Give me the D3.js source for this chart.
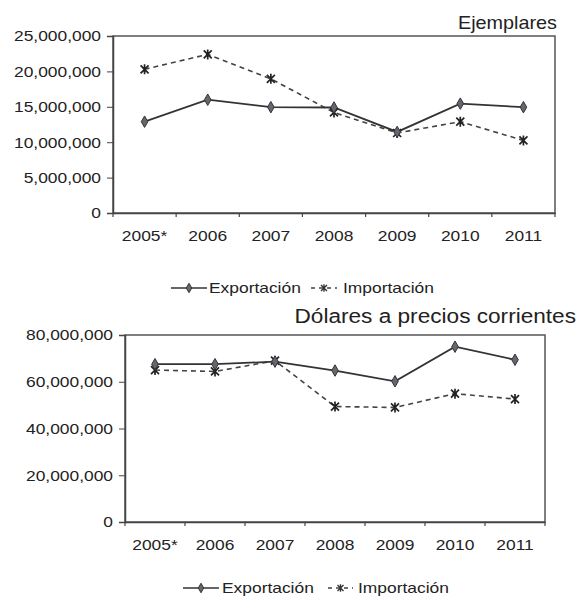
<!DOCTYPE html>
<html><head><meta charset="utf-8">
<script src="https://cdn.jsdelivr.net/npm/d3@7"></script>
<style>
body{margin:0;background:#fff;}
text{font-family:"Liberation Sans",Arial,sans-serif;fill:#222;}
</style></head>
<body><svg id="c" width="579" height="600"></svg>
<script>
const years = ["2005*","2006","2007","2008","2009","2010","2011"];
const ejemExport = [12900000,16000000,14950000,14900000,11450000,15450000,14950000];
const ejemImport = [20300000,22400000,18950000,14200000,11300000,12900000,10250000];
const dolExport = [67500000,67500000,68600000,64800000,60200000,75000000,69400000];
const dolImport = [65000000,64400000,69000000,49400000,49000000,54900000,52600000];
const ejemTicks = [0,5000000,10000000,15000000,20000000,25000000];
const dolTicks = [0,20000000,40000000,60000000,80000000];
const seriesNames = ["Exportación","Importación"];

const S = 1.16; // horizontal stretch of text in the reference
const svg = d3.select("#c");
svg.append("rect").attr("width",579).attr("height",600).attr("fill","#fff");
const fmt = d3.format(",");

const starPath = "M-4,-4L4,4M-4,4L4,-4M0,-5L0,5";
const diamond = d3.symbol().type(d3.symbolDiamond).size(38);

function stext(g,x,y,t,size,anchor,s){
  return g.append("text").attr("transform",`translate(${x},${y}) scale(${s||S},1)`)
    .attr("text-anchor",anchor||"start").attr("font-size",size).attr("fill","#333").text(t);
}

function chart(cfg){
  const g = svg.append("g");
  const x = d3.scaleBand().domain(years).range([cfg.x0,cfg.x1]);
  const y = d3.scaleLinear().domain([0,cfg.max]).range([cfg.y1,cfg.y0]);
  g.append("rect").attr("x",cfg.x0).attr("y",cfg.y0).attr("width",cfg.x1-cfg.x0).attr("height",cfg.y1-cfg.y0)
    .attr("fill","none").attr("stroke","#555").attr("stroke-width",1.5);
  const ya = g.append("g").attr("transform",`translate(${cfg.x0},0)`)
    .call(d3.axisLeft(y).tickValues(cfg.ticks).tickFormat(fmt).tickSize(6).tickPadding(4));
  ya.select(".domain").attr("stroke","#444").attr("stroke-width",1.5);
  ya.selectAll(".tick line").attr("stroke","#444");
  ya.selectAll("text").attr("font-size",15).attr("fill","#333").attr("font-family","Liberation Sans, Arial, sans-serif")
    .attr("x",-cfg.ypad/S).attr("transform",`scale(${S},1)`);
  const xa = g.append("g").attr("transform",`translate(0,${cfg.y1})`)
    .call(d3.axisBottom(x).tickSize(0).tickPadding(cfg.xpad));
  xa.select(".domain").attr("stroke","#444").attr("stroke-width",1.5);
  xa.selectAll("text").attr("font-size",15).attr("fill","#333").attr("font-family","Liberation Sans, Arial, sans-serif")
    .attr("transform",`scale(${S},1)`).attr("x",0);
  const bounds = years.map(d=>x(d)).concat([cfg.x1]);
  g.selectAll(".xt").data(bounds).enter().append("line")
    .attr("x1",d=>d).attr("x2",d=>d).attr("y1",cfg.y1).attr("y2",cfg.y1+4)
    .attr("stroke","#444").attr("stroke-width",1.2);
  const cx = d=>x(d)+x.bandwidth()/2;
  const line = d3.line().x((d,i)=>cx(years[i])).y(d=>y(d));
  g.append("path").datum(cfg.imp).attr("d",line).attr("fill","none").attr("stroke","#444")
    .attr("stroke-width",1.6).attr("stroke-dasharray","5,4");
  g.append("path").datum(cfg.exp).attr("d",line).attr("fill","none").attr("stroke","#333")
    .attr("stroke-width",1.8);
  g.selectAll(".st").data(cfg.imp).enter().append("path")
    .attr("transform",(d,i)=>`translate(${cx(years[i])},${y(d)})`).attr("d",starPath)
    .attr("stroke","#222").attr("stroke-width",1.7).attr("fill","none");
  g.selectAll(".dm").data(cfg.exp).enter().append("path")
    .attr("transform",(d,i)=>`translate(${cx(years[i])},${y(d)})`).attr("d",diamond)
    .attr("fill","#666670").attr("stroke","#333").attr("stroke-width",1);
  stext(g,cfg.tx,cfg.ty,cfg.title,cfg.tsize,"end",cfg.ts).attr("fill","#222");
  // legend
  const L = g.append("g").attr("transform",`translate(${cfg.lx},${cfg.ly})`);
  const lg = cfg.leg;
  L.append("line").attr("x1",0).attr("x2",lg[0]).attr("stroke","#333").attr("stroke-width",1.6);
  L.append("path").attr("transform",`translate(${lg[0]/2},0)`).attr("d",d3.symbol().type(d3.symbolDiamond).size(26))
    .attr("fill","#666670").attr("stroke","#333");
  stext(L,lg[1],5,seriesNames[0],15);
  L.append("line").attr("x1",lg[2]).attr("x2",lg[3]).attr("stroke","#444").attr("stroke-width",1.4).attr("stroke-dasharray","4,4");
  L.append("path").attr("transform",`translate(${(lg[2]+lg[3])/2},0) scale(0.75)`).attr("d",starPath).attr("stroke","#333").attr("stroke-width",1.8);
  stext(L,lg[4],5,seriesNames[1],15);
}

chart({x0:113,x1:555,y0:36,y1:213,max:25000000,ticks:ejemTicks,exp:ejemExport,imp:ejemImport,
  title:"Ejemplares",tx:557,ty:29,tsize:18,ts:1.1,lx:171,ly:288,xpad:17,ypad:12,leg:[36,38,140,166,172]});
chart({x0:125,x1:545,y0:335,y1:522,max:80000000,ticks:dolTicks,exp:dolExport,imp:dolImport,
  title:"Dólares a precios corrientes",tx:576,ty:323,tsize:19.5,ts:1.16,lx:183,ly:588,xpad:17,ypad:12,leg:[36,39,145,170,175]});
</script></body></html>
